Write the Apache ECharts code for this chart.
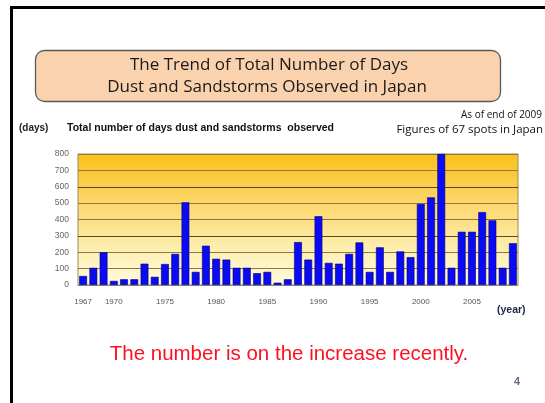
<!DOCTYPE html>
<html>
<head>
<meta charset="utf-8">
<title>Dust and Sandstorms Observed in Japan</title>
<script src="https://cdn.jsdelivr.net/npm/echarts@6/dist/echarts.min.js"></script>
<style>
  html, body { margin: 0; padding: 0; background: #fff; }
  #chart { width: 545px; height: 403px; }
</style>
</head>
<body>
<div id="chart"></div>
<script>
// Observation years, one bar per year
const years = [];
for (let y = 1967; y <= 2009; y++) years.push(String(y));

// Total number of days dust and sandstorms were observed (sum over 67 stations)
const dustDays = [
  55, 105, 200, 25, 35, 35, 130, 50, 128, 190,   // 1967-1976
  505, 80, 240, 160, 155, 105, 105, 72, 80, 14,   // 1977-1986
  35, 262, 155, 420, 135, 130, 190, 260, 80, 230, // 1987-1996
  80, 205, 170, 495, 535, 800, 105, 325, 325, 445, // 1997-2006
  395, 105, 255                                   // 2007-2009
];

// Years that carry a tick label
const yearLabels = ['1967', '1970', '1975', '1980', '1985', '1990', '1995', '2000', '2005'];

// Value axis ticks
const yTicks = [0, 100, 200, 300, 400, 500, 600, 700, 800];

const chart = echarts.init(document.getElementById('chart'), null, { renderer: 'canvas' });

const textFont = '"Open Sans", "DejaVu Sans", sans-serif';
const sansFont = '"Liberation Sans", Arial, sans-serif';

chart.setOption({
  backgroundColor: '#ffffff',
  animation: false,
  grid: {
    left: 78, right: 27, top: 154, bottom: 118,
    show: true,
    borderColor: '#9a8a5a',
    borderWidth: 1,
    backgroundColor: new echarts.graphic.LinearGradient(0, 0, 0, 1, [
      { offset: 0, color: '#fbc01a' },
      { offset: 0.35, color: '#fcd566' },
      { offset: 0.7, color: '#fdedac' },
      { offset: 1, color: '#fffbe0' }
    ])
  },
  xAxis: {
    type: 'category',
    data: years,
    boundaryGap: true,
    axisLine: { show: true, lineStyle: { color: '#8a8a8a', width: 1 } },
    axisTick: { show: false },
    axisLabel: {
      interval: 0,
      color: '#555',
      fontSize: 8,
      fontFamily: sansFont,
      margin: 13,
      formatter: v => (yearLabels.includes(v) ? v : '')
    },
    splitLine: { show: false }
  },
  yAxis: {
    type: 'value',
    min: yTicks[0],
    max: yTicks[yTicks.length - 1],
    interval: 100,
    axisLine: { show: false },
    axisTick: { show: false },
    axisLabel: {
      color: '#666',
      fontSize: 8.5,
      fontFamily: sansFont,
      margin: 9
    },
    splitLine: {
      show: true,
      lineStyle: { color: ['#5a4a14', '#8c7a3e', '#8c7a3e'], width: 1 }
    }
  },
  series: [{
    type: 'bar',
    data: dustDays,
    barCategoryGap: '24%',
    itemStyle: {
      color: '#0a0af5',
      borderColor: '#000070',
      borderWidth: 0.6
    }
  }],
  graphic: [
    // slide frame
    {
      type: 'rect', z: 100, silent: true,
      shape: { x: 11.5, y: 7.5, width: 640, height: 500 },
      style: { fill: null, stroke: '#000', lineWidth: 3 }
    },
    // title box
    {
      type: 'rect', z: 90,
      shape: { x: 35.5, y: 50.5, width: 465, height: 51, r: 9 },
      style: { fill: '#fad3ae', stroke: '#5a5a5a', lineWidth: 1.3 }
    },
    {
      type: 'text', z: 91, x: 269, y: 57,
      style: {
        text: 'The Trend of Total Number of Days',
        fill: '#1a1a1a',
        font: '17px ' + textFont,
        textAlign: 'center'
      }
    },
    {
      type: 'text', z: 91, x: 267, y: 79,
      style: {
        text: 'Dust and Sandstorms Observed in Japan',
        fill: '#1a1a1a',
        font: '17px ' + textFont,
        textAlign: 'center'
      }
    },
    // header notes
    {
      type: 'text', z: 91, x: 19, y: 123,
      style: { text: '(days)', fill: '#222', font: 'bold 10px ' + sansFont }
    },
    {
      type: 'text', z: 91, x: 67, y: 123,
      style: { text: 'Total number of days dust and sandstorms  observed', fill: '#111', font: 'bold 10.5px ' + sansFont }
    },
    {
      type: 'text', z: 91, x: 542, y: 110,
      style: { text: 'As of end of 2009', fill: '#111', font: '10px ' + textFont, textAlign: 'right' }
    },
    {
      type: 'text', z: 91, x: 543, y: 124,
      style: { text: 'Figures of 67 spots in Japan', fill: '#111', font: '11.5px ' + textFont, textAlign: 'right' }
    },
    // axis unit for years
    {
      type: 'text', z: 91, x: 497, y: 305,
      style: { text: '(year)', fill: '#1c2640', font: 'bold 10.5px ' + sansFont }
    },
    // conclusion
    {
      type: 'text', z: 91, x: 289, y: 344,
      style: { text: 'The number is on the increase recently.', fill: '#ff1020', font: '20.5px ' + sansFont, textAlign: 'center' }
    },
    // page number
    {
      type: 'text', z: 91, x: 514, y: 376,
      style: { text: '4', fill: '#607080', font: 'bold 11px ' + sansFont }
    }
  ]
});
</script>
</body>
</html>
